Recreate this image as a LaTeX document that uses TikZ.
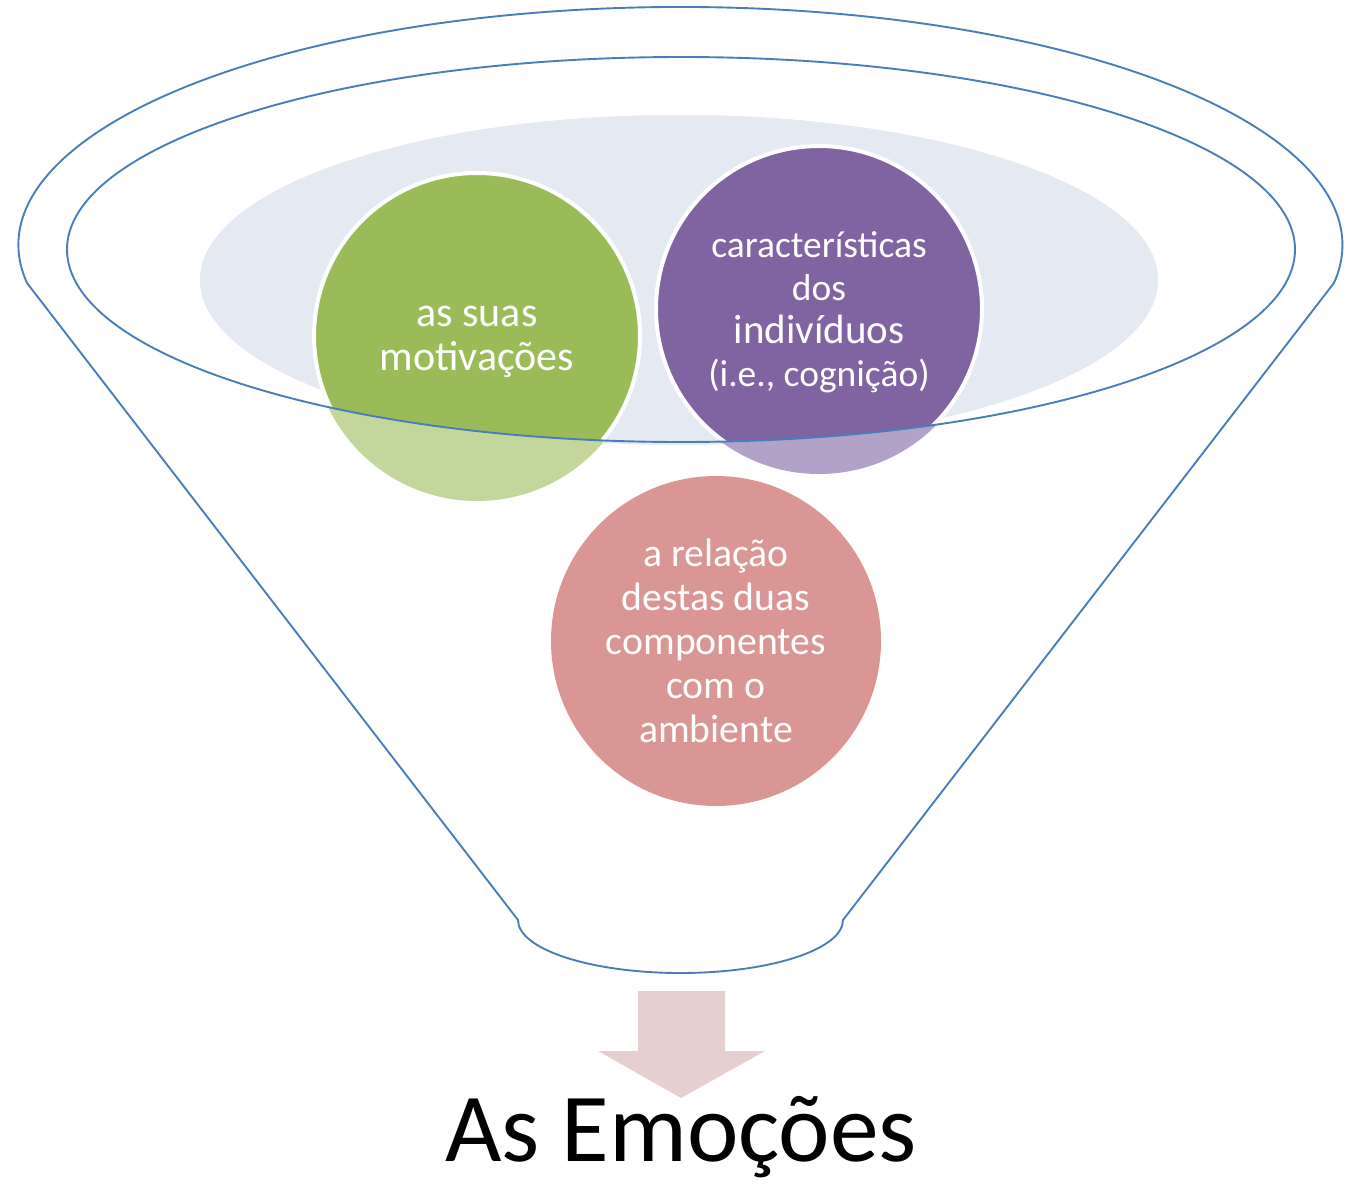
\documentclass[tikz,border=0pt]{standalone}
\usepackage{fontspec}
\setmainfont{Carlito}
\definecolor{funnelblue}{HTML}{4A7EBB}
\definecolor{greyell}{HTML}{E4E9F2}
\definecolor{cgreen}{HTML}{9BBB59}
\definecolor{cgreenlt}{HTML}{C3D69B}
\definecolor{cpurple}{HTML}{8064A2}
\definecolor{cpurplelt}{HTML}{B2A2C7}
\definecolor{cpink}{HTML}{D99694}
\definecolor{arrowpink}{HTML}{E6CFD0}
\tikzset{
  funnelline/.style={draw=funnelblue, line width=1.9pt},
  ctext/.style={text=white, align=center, inner sep=0pt},
  ringed/.style={draw=white, line width=4pt}
}
\begin{document}
\begin{tikzpicture}[x=1pt,y=-1pt]
\useasboundingbox (0,0) rectangle (1356,1183);
% grey background ellipse
\fill[greyell] (679,280) ellipse [x radius=479, y radius=165];
% lighter (outside) parts of circles
\fill[cgreenlt] (477,336) circle [radius=165];
\fill[cpurplelt] (819,309) circle [radius=165];
% full-colour parts inside the funnel mouth
\begin{scope}
  \clip (681,249.5) ellipse [x radius=614, y radius=192.5];
  \fill[greyell] (679,280) ellipse [x radius=479, y radius=165];
  \filldraw[cgreen, ringed] (477,336) circle [radius=163];
  \filldraw[cpurple, ringed] (819,309) circle [radius=163];
\end{scope}
% pink circle
\fill[cpink] (716,641) circle [radius=165];
% funnel outline
\draw[funnelline] (27,283) arc [start angle=170.8, end angle=369.2, x radius=662, y radius=238]
  -- (843,920) arc [start angle=0, end angle=180, x radius=162.5, y radius=53] -- cycle;
\draw[funnelline] (681,249.5) ellipse [x radius=614, y radius=192.5];
% texts
\node[ctext, font=\fontsize{42}{44}\selectfont] (t1) at (477,342) {as suas\\motivações};
\node[ctext, font=\fontsize{37.5}{43}\selectfont] (t2) at (819,312) {características\\dos\\{\fontsize{41}{43}\selectfont indivíduos}\\(i.e., cognição)};
\node[ctext, font=\fontsize{39.7}{44}\selectfont] (t3) at (716,641) {a relação\\destas duas\\componentes\\com o\\ambiente};
% arrow
\fill[arrowpink] (638,991) -- (725,991) -- (725,1051) -- (765,1051) -- (681,1098) -- (598,1051) -- (638,1051) -- cycle;
\node[anchor=base, inner sep=0pt, font=\fontsize{97.5}{110}\selectfont] (title) at (681,1161) {As Emoções};
\end{tikzpicture}
\end{document}
